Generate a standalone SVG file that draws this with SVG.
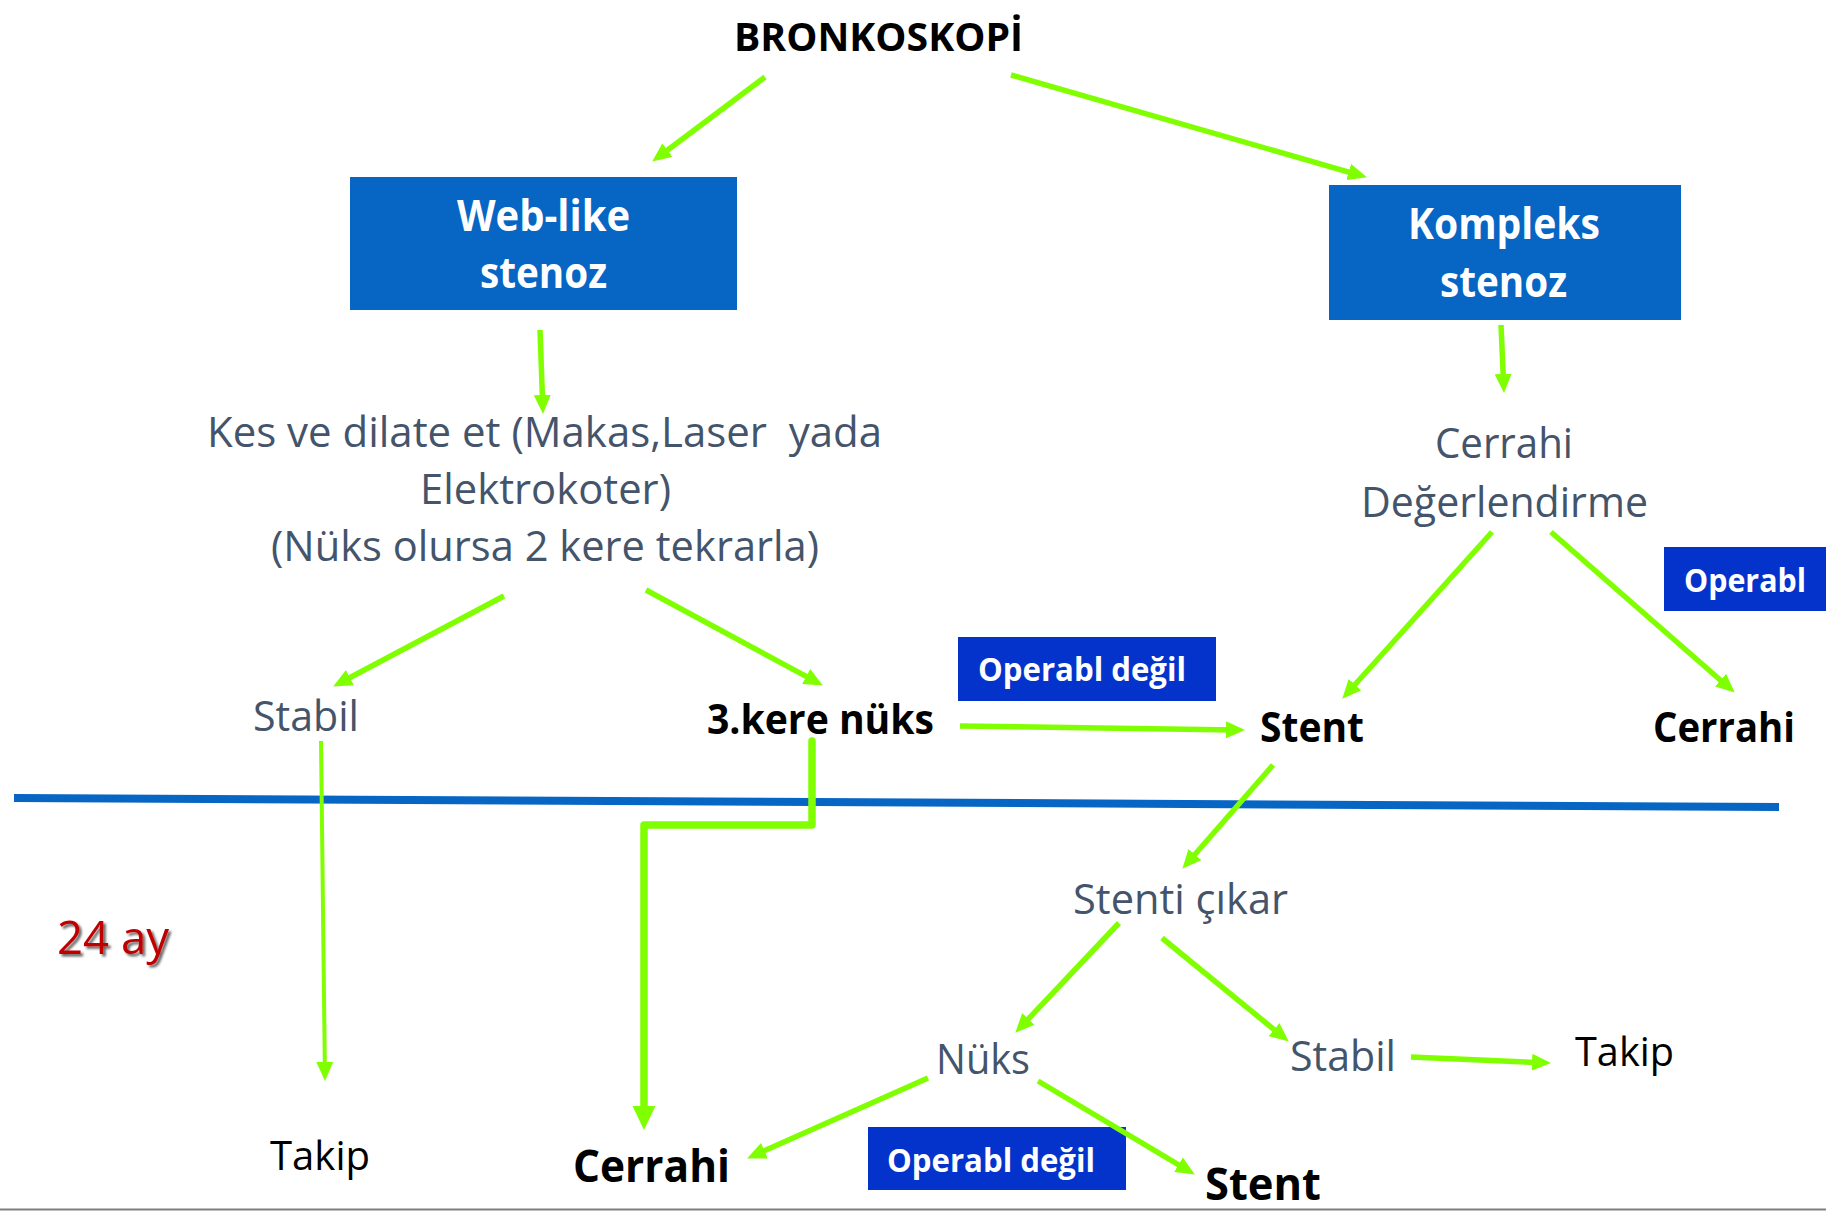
<svg xmlns="http://www.w3.org/2000/svg" width="1826" height="1211" viewBox="0 0 1826 1211">
  <style>
    text { font-family: "Open Sans", "Noto Sans", "Liberation Sans", sans-serif; text-anchor: middle; }
    .box { fill: #0766C4; }
    .opbox { fill: #0433CC; }
    .wb { fill: #FFFFFF; font-weight: 700; font-size: 43px; }
    .wop { fill: #FFFFFF; font-weight: 700; font-size: 33px; }
    .gray { fill: #44546A; font-size: 42px; }
    .blk { fill: #000000; font-weight: 700; font-size: 42px; }
    .blk2 { fill: #000000; font-weight: 700; font-size: 45px; }
    .reg { fill: #000000; font-size: 40px; }
    .red { fill: #C00000; font-size: 45px; font-weight: 500; }
    .conn { fill: none; stroke: #80FF00; stroke-width: 5.5; marker-end: url(#ah); }
    .thin { stroke-width: 4; }
    .thick { fill: none; stroke: #80FF00; stroke-width: 7.5; stroke-linejoin: round; stroke-linecap: round; marker-end: url(#ahBig); }
  </style>
  <defs>
    <marker id="ah" markerUnits="userSpaceOnUse" markerWidth="21" markerHeight="17" refX="10" refY="8.5" orient="auto">
      <path d="M0,0 L19,8.5 L0,17 Z" fill="#80FF00"/>
    </marker>
    <marker id="ahBig" markerUnits="userSpaceOnUse" markerWidth="26" markerHeight="24" refX="12" refY="11.5" orient="auto">
      <path d="M0,0 L24,11.5 L0,23 Z" fill="#80FF00"/>
    </marker>
    <filter id="shadow" x="-20%" y="-20%" width="140%" height="140%">
      <feDropShadow dx="2.5" dy="2.5" stdDeviation="1.2" flood-color="#000000" flood-opacity="0.6"/>
    </filter>
  </defs>

  <rect x="0" y="0" width="1826" height="1211" fill="#FFFFFF"/>

  <!-- divider lines -->
  <line x1="14" y1="798" x2="1779" y2="807" stroke="#0765C3" stroke-width="8"/>
  <line x1="0" y1="1209.5" x2="1826" y2="1209.5" stroke="#7F7F7F" stroke-width="2"/>

  <g id="bronkoskopi">
    <text x="878.5" y="51" class="blk" style="font-size:39px" textLength="289" lengthAdjust="spacingAndGlyphs">BRONKOSKOPİ</text>
  </g>

  <g id="web-like">
    <rect x="350" y="177" width="387" height="133" class="box"/>
    <text x="543.5" y="231" class="wb" textLength="173" lengthAdjust="spacingAndGlyphs">Web-like</text>
    <text x="543.5" y="288" class="wb" textLength="127" lengthAdjust="spacingAndGlyphs">stenoz</text>
  </g>

  <g id="kompleks">
    <rect x="1329" y="185" width="352" height="135" class="box"/>
    <text x="1504" y="239" class="wb" textLength="192" lengthAdjust="spacingAndGlyphs">Kompleks</text>
    <text x="1503.5" y="297" class="wb" textLength="127" lengthAdjust="spacingAndGlyphs">stenoz</text>
  </g>

  <g id="kes-dilate">
    <text x="544.5" y="447" class="gray" textLength="675" lengthAdjust="spacingAndGlyphs" xml:space="preserve">Kes ve dilate et (Makas,Laser  yada</text>
    <text x="545.5" y="504" class="gray" textLength="251" lengthAdjust="spacingAndGlyphs">Elektrokoter)</text>
    <text x="545" y="561" class="gray" textLength="548" lengthAdjust="spacingAndGlyphs">(Nüks olursa 2 kere tekrarla)</text>
  </g>

  <g id="cerrahi-degerlendirme">
    <text x="1504" y="458" class="gray" textLength="138" lengthAdjust="spacingAndGlyphs">Cerrahi</text>
    <text x="1504.5" y="517" class="gray" textLength="287" lengthAdjust="spacingAndGlyphs">Değerlendirme</text>
  </g>

  <g id="stabil-1">
    <text x="306" y="731" class="gray" textLength="106" lengthAdjust="spacingAndGlyphs">Stabil</text>
  </g>

  <g id="kere-nuks">
    <text x="820.5" y="734" class="blk" textLength="227" lengthAdjust="spacingAndGlyphs">3.kere nüks</text>
  </g>

  <g id="operabl-degil-1">
    <rect x="958" y="637" width="258" height="64" class="opbox"/>
    <text x="1082" y="681" class="wop" textLength="208" lengthAdjust="spacingAndGlyphs">Operabl değil</text>
  </g>

  <g id="stent-1">
    <text x="1312" y="742" class="blk" textLength="104" lengthAdjust="spacingAndGlyphs">Stent</text>
  </g>

  <g id="operabl">
    <rect x="1664" y="547" width="162" height="64" class="opbox"/>
    <text x="1745" y="592" class="wop" textLength="122" lengthAdjust="spacingAndGlyphs">Operabl</text>
  </g>

  <g id="cerrahi-1">
    <text x="1724" y="742" class="blk" textLength="142" lengthAdjust="spacingAndGlyphs">Cerrahi</text>
  </g>

  <g id="ay-24">
    <text x="113" y="954" class="red" filter="url(#shadow)" textLength="112" lengthAdjust="spacingAndGlyphs">24 ay</text>
  </g>

  <g id="stenti-cikar">
    <text x="1180.5" y="914" class="gray" textLength="215" lengthAdjust="spacingAndGlyphs">Stenti çıkar</text>
  </g>

  <g id="nuks">
    <text x="983" y="1074" class="gray" textLength="94" lengthAdjust="spacingAndGlyphs">Nüks</text>
  </g>

  <g id="stabil-2">
    <text x="1343" y="1071" class="gray" textLength="106" lengthAdjust="spacingAndGlyphs">Stabil</text>
  </g>

  <g id="takip-2">
    <text x="1624.5" y="1066" class="reg" textLength="99" lengthAdjust="spacingAndGlyphs">Takip</text>
  </g>

  <g id="takip-1">
    <text x="320" y="1170" class="reg" textLength="100" lengthAdjust="spacingAndGlyphs">Takip</text>
  </g>

  <g id="cerrahi-2">
    <text x="651.5" y="1182" class="blk2" textLength="157" lengthAdjust="spacingAndGlyphs">Cerrahi</text>
  </g>

  <g id="operabl-degil-2">
    <rect x="868" y="1127" width="258" height="63" class="opbox"/>
    <text x="991" y="1172" class="wop" textLength="208" lengthAdjust="spacingAndGlyphs">Operabl değil</text>
  </g>

  <g id="stent-2">
    <text x="1263" y="1200" class="blk2" textLength="116" lengthAdjust="spacingAndGlyphs">Stent</text>
  </g>

  <g id="connectors">
    <line class="conn" x1="765" y1="77" x2="659.4" y2="156.2"/>
    <line class="conn" x1="1011" y1="75" x2="1358.3" y2="174.8"/>
    <line class="conn" x1="540" y1="330" x2="542.7" y2="405"/>
    <line class="conn" x1="1501" y1="325" x2="1503.6" y2="384"/>
    <line class="conn" x1="504" y1="596" x2="341.1" y2="682.3"/>
    <line class="conn" x1="646" y1="590" x2="815" y2="681.2"/>
    <line class="conn" x1="960" y1="726" x2="1236" y2="729.9"/>
    <line class="conn" x1="1492" y1="532" x2="1348.3" y2="692"/>
    <line class="conn" x1="1551" y1="532" x2="1728" y2="686.7"/>
    <line class="conn thin" x1="321" y1="741" x2="324.9" y2="1072"/>
    <path class="thick" d="M812,741 V825 H644 V1118"/>
    <line class="conn" x1="1273" y1="765" x2="1188.3" y2="862"/>
    <line class="conn" x1="1119" y1="923" x2="1021.5" y2="1026.2"/>
    <line class="conn" x1="1162" y1="938" x2="1281.8" y2="1035.9"/>
    <line class="conn" x1="1411" y1="1057" x2="1542" y2="1062.7"/>
    <line class="conn" x1="928" y1="1078" x2="755.3" y2="1154.8"/>
    <line class="conn" x1="1038" y1="1081" x2="1187.1" y2="1169.9"/>
  </g>
</svg>
